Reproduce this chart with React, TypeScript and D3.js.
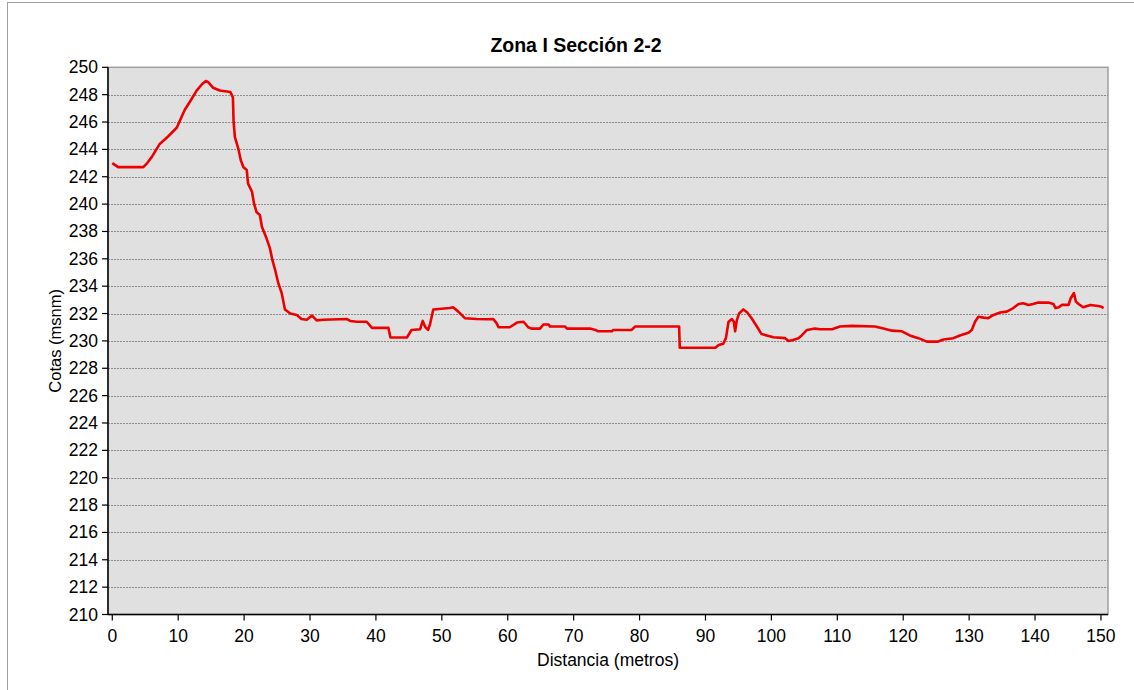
import React from "react";
import * as d3 from "d3";

const distancia: number[] = [
  0, 0.9, 4.7, 5.3, 6.0, 7.2, 8.5, 9.8, 11.0, 11.8, 12.8, 13.6, 14.2, 14.6, 15.3, 16.3, 17.9,
  18.3, 18.4, 18.6, 19.1, 19.5, 19.9, 20.4, 20.6, 21.2, 21.5, 21.9, 22.4, 22.7, 23.4, 23.9,
  24.3, 24.7, 25.2, 25.7, 26.2, 27.0, 28.0, 28.7, 29.5, 30.3, 31.0, 32.0, 35.6, 36.1, 37.1,
  38.6, 39.4, 41.9, 42.2, 44.7, 45.4, 46.7, 47.1, 47.5, 47.9, 48.2, 48.7, 51.2, 51.7, 52.5,
  53.5, 55.3, 56.8, 57.8, 58.3, 58.6, 60.3, 61.4, 62.4, 63.1, 63.6, 64.9, 65.4, 66.2, 66.4,
  68.7, 69.0, 72.5, 73.3, 73.7, 75.8, 76.0, 78.8, 79.3, 86.0, 86.1, 91.5, 92.0, 92.7, 93.1,
  93.5, 94.0, 94.3, 94.5, 94.75, 95.1, 95.75, 96.3, 97.0, 97.8, 98.5, 99.3, 100.3, 102.1,
  102.6, 103.3, 104.1, 104.6, 105.4, 106.6, 107.4, 109.2, 110.4, 112.2, 115.7, 117.0, 118.3,
  119.8, 121.0, 122.3, 123.6, 125.3, 126.1, 127.6, 128.6, 129.9, 130.4, 130.9, 131.4, 132.2,
  132.9, 133.7, 134.7, 135.7, 136.7, 137.5, 138.2, 139.0, 139.7, 140.5, 142.0, 142.8, 143.1,
  143.6, 144.1, 145.1, 145.4, 145.9, 146.2, 146.6, 147.3, 148.4, 149.6, 150.1, 150.4,
];

const cotas: number[] = [
  243.0, 242.7, 242.7, 243.0, 243.45, 244.4, 244.96, 245.6, 246.9, 247.5, 248.3, 248.76, 249.0,
  248.9, 248.5, 248.3, 248.2, 247.8, 246.1, 244.9, 244.1, 243.2, 242.7, 242.5, 241.5, 240.9,
  240.05, 239.4, 239.2, 238.35, 237.5, 236.8, 235.9, 235.2, 234.2, 233.5, 232.3, 232.0, 231.9,
  231.6, 231.55, 231.85, 231.5, 231.55, 231.6, 231.46, 231.4, 231.4, 230.95, 230.95, 230.25,
  230.25, 230.8, 230.85, 231.46, 231.0, 230.8, 231.2, 232.3, 232.4, 232.46, 232.14, 231.66,
  231.6, 231.58, 231.6, 231.3, 231.0, 231.0, 231.34, 231.4, 231.0, 230.9, 230.9, 231.2, 231.2,
  231.05, 231.05, 230.9, 230.9, 230.8, 230.7, 230.7, 230.8, 230.8, 231.05, 231.05, 229.5, 229.5,
  229.7, 229.8, 230.2, 231.4, 231.6, 231.4, 230.7, 231.5, 232.0, 232.3, 232.1, 231.66, 231.05,
  230.5, 230.4, 230.27, 230.2, 230.0, 230.07, 230.2, 230.4, 230.8, 230.9, 230.85, 230.85, 231.05,
  231.1, 231.05, 230.9, 230.75, 230.7, 230.4, 230.2, 229.95, 229.95, 230.1, 230.2, 230.4, 230.6,
  230.8, 231.4, 231.77, 231.7, 231.66, 231.9, 232.07, 232.14, 232.4, 232.7, 232.75, 232.63,
  232.7, 232.8, 232.8, 232.7, 232.4, 232.46, 232.63, 232.63, 233.1, 233.5, 232.87, 232.7,
  232.46, 232.63, 232.55, 232.5, 232.4,
];

const xTicks: number[] = [0, 10, 20, 30, 40, 50, 60, 70, 80, 90, 100, 110, 120, 130, 140, 150];
const yTicks: number[] = d3.range(210, 251, 2);

const title = "Zona I Sección 2-2";
const xTitle = "Distancia (metros)";
const yTitle = "Cotas (msnm)";

const W = 1134;
const H = 690;
const plot = { left: 108, right: 1108, top: 67.3, bottom: 614.5 };
const FONT = "'Liberation Sans', Arial, sans-serif";

export default function App() {
  const x = d3.scaleLinear().domain([-0.65, 151.07]).range([plot.left, plot.right]);
  const y = d3.scaleLinear().domain([210, 250]).range([plot.bottom, plot.top]);
  const pts: [number, number][] = distancia.map((d, i) => [d, cotas[i]]);
  const line = d3
    .line<[number, number]>()
    .x((p) => x(p[0]))
    .y((p) => y(p[1]));

  return (
    <svg
      width={W}
      height={H}
      style={{ position: "absolute", left: 0, top: 0, background: "#fff" }}
      fontFamily={FONT}
    >
      <rect x={7.5} y={2.5} width={1140} height={700} fill="#fff" stroke="#a0a0a0" strokeWidth={1} />
      <rect
        x={plot.left}
        y={plot.top}
        width={plot.right - plot.left}
        height={plot.bottom - plot.top}
        fill="#e0e0e0"
        stroke="#a0a0a0"
        strokeWidth={1.5}
      />
      {yTicks
        .filter((t) => t > 210 && t < 250)
        .map((t) => (
          <line
            key={"g" + t}
            x1={plot.left}
            x2={plot.right}
            y1={Math.round(y(t)) + 0.5}
            y2={Math.round(y(t)) + 0.5}
            stroke="#8c8c8c"
            strokeWidth={1}
            strokeDasharray="2,1"
          />
        ))}
      <path d={line(pts) || ""} fill="none" stroke="#ee0000" strokeWidth={2.6} strokeLinejoin="round" />
      {/* axes */}
      <line x1={plot.left} x2={plot.left} y1={plot.top} y2={plot.bottom + 0.5} stroke="#000" strokeWidth={1.5} />
      <line x1={plot.left} x2={plot.right} y1={plot.bottom} y2={plot.bottom} stroke="#000" strokeWidth={1.5} />
      {yTicks.map((t) => (
        <g key={"y" + t}>
          <line x1={plot.left - 6} x2={plot.left} y1={y(t)} y2={y(t)} stroke="#000" strokeWidth={1.2} />
          <text x={98} y={y(t) + 6} textAnchor="end" fontSize={17.5} fill="#000">
            {t}
          </text>
        </g>
      ))}
      {xTicks.map((t) => (
        <g key={"x" + t}>
          <line x1={x(t)} x2={x(t)} y1={plot.bottom} y2={plot.bottom + 6} stroke="#000" strokeWidth={1.2} />
          <text x={x(t)} y={642} textAnchor="middle" fontSize={17.5} fill="#000">
            {t}
          </text>
        </g>
      ))}
      <text x={576} y={52} textAnchor="middle" fontSize={19.5} fontWeight="bold" fill="#000">
        {title}
      </text>
      <text x={(plot.left + plot.right) / 2} y={666} textAnchor="middle" fontSize={17.5} fill="#000">
        {xTitle}
      </text>
      <text
        transform={`translate(61, ${(plot.top + plot.bottom) / 2}) rotate(-90)`}
        textAnchor="middle"
        fontSize={16.5}
        fill="#000"
      >
        {yTitle}
      </text>
    </svg>
  );
}
